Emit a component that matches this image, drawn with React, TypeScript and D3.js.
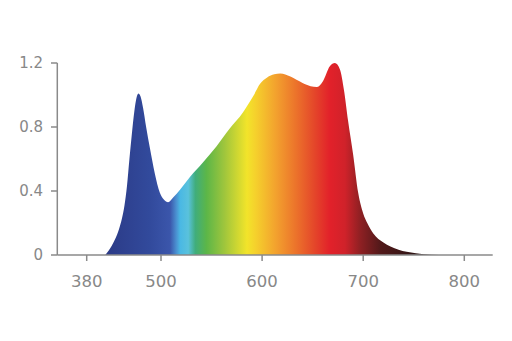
import React from "react";
import * as d3 from "d3";

const wavelengths = [410, 415, 420, 426, 432, 437, 441, 445, 449, 453, 457, 460, 463.5, 467, 471, 476, 482, 490, 498, 503, 507, 512, 519, 529, 541, 555, 568, 581, 585, 591, 598, 605, 612, 618, 628, 640, 648, 654, 660, 667, 672, 677, 681, 685, 690, 695, 700, 704, 710, 720, 727, 735, 743, 752, 760, 775];
const intensity = [0, 0.025, 0.055, 0.1, 0.16, 0.23, 0.31, 0.43, 0.6, 0.76, 0.9, 0.975, 1.01, 0.99, 0.92, 0.8, 0.67, 0.51, 0.39, 0.345, 0.33, 0.36, 0.41, 0.49, 0.575, 0.68, 0.79, 0.89, 0.93, 0.99, 1.07, 1.11, 1.13, 1.135, 1.115, 1.075, 1.055, 1.05, 1.085, 1.18, 1.2, 1.16, 1.03, 0.84, 0.63, 0.39, 0.26, 0.2, 0.135, 0.078, 0.053, 0.033, 0.02, 0.011, 0.005, 0];

const xTicks = [380, 500, 600, 700, 800];
const yTicks = [0, 0.4, 0.8, 1.2];
const yTickLabels = ["0", "0.4", "0.8", "1.2"];

const stopWavelengths = [410, 482, 509, 515, 519, 527, 534, 545, 563, 585, 593, 613, 633, 652, 667, 682, 697, 717, 756];
const stopColors = ["#2b3a86", "#324a9c", "#3b56ab", "#4a8fd0", "#4ab8e4", "#5ac2dc", "#40ad7c", "#5cb648", "#a0c63c", "#f2e42a", "#f5d22c", "#f3a32e", "#ec742b", "#e4462a", "#e2212a", "#d0222a", "#8f2023", "#52191a", "#2a1414"];

export default function App() {
  const W = 512, H = 341;
  const x = d3.scaleLinear().domain([380, 500, 800]).range([86.7, 161, 464.3]);
  const y = d3.scaleLinear().domain([0, 1.2]).range([255, 63]);
  const data = wavelengths.map((w, i) => [w, intensity[i]] as [number, number]);
  const area = d3.area<[number, number]>()
    .x(d => x(d[0]))
    .y0(y(0))
    .y1(d => y(d[1]))
    .curve(d3.curveMonotoneX);
  const axisColor = "#8a8a8a";
  const textColor = "#888888";
  const font = "'DejaVu Sans', sans-serif";
  const g0 = x(stopWavelengths[0]);
  const g1 = x(stopWavelengths[stopWavelengths.length - 1]);
  return (
    <svg width={W} height={H} style={{ position: "absolute", left: 0, top: 0 }}>
      <defs>
        <linearGradient id="spec" gradientUnits="userSpaceOnUse" x1={g0} x2={g1} y1={0} y2={0}>
          {stopWavelengths.map((w, i) => (
            <stop key={i} offset={(x(w) - g0) / (g1 - g0)} stopColor={stopColors[i]} />
          ))}
        </linearGradient>
      </defs>
      <rect width={W} height={H} fill="#fff" />
      <path d={area(data) || ""} fill="url(#spec)" />
      <line x1={57.3} x2={57.3} y1={y(1.2)} y2={y(0)} stroke={axisColor} strokeWidth={1.5} />
      <line x1={57.3} x2={492.7} y1={y(0)} y2={y(0)} stroke={axisColor} strokeWidth={1.5} />
      {yTicks.map((t, i) => (
        <g key={i}>
          <line x1={51} x2={57.3} y1={y(t)} y2={y(t)} stroke={axisColor} strokeWidth={1.5} />
          <text x={43} y={y(t)} dy="0.36em" textAnchor="end" fontFamily={font} fontSize={15} fill={textColor}>{yTickLabels[i]}</text>
        </g>
      ))}
      {xTicks.map((t, i) => (
        <g key={i}>
          <line x1={x(t)} x2={x(t)} y1={y(0)} y2={y(0) + 6} stroke={axisColor} strokeWidth={1.5} />
          <text x={x(t)} y={287} textAnchor="middle" fontFamily={font} fontSize={16.5} fill={textColor}>{t}</text>
        </g>
      ))}
    </svg>
  );
}
